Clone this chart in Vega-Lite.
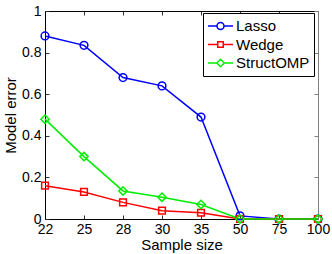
{
  "$schema": "https://vega.github.io/schema/vega-lite/v6.json",
  "width": 273,
  "height": 208,
  "autosize": {"type": "none"},
  "padding": {"left": 45, "top": 11, "right": 14, "bottom": 35},
  "background": "white",
  "config": {
    "view": {"stroke": null},
    "font": "Liberation Sans",
    "axis": {"grid": false, "labelFont": "Liberation Sans", "titleFont": "Liberation Sans", "labelFontSize": 14, "titleFontSize": 15, "titleFontWeight": "normal", "labelColor": "black", "titleColor": "black", "domainColor": "black", "tickColor": "#333333", "tickSize": -4, "domainWidth": 1}
  },
  "data": {"values": [
    {"n": "22", "method": "Lasso", "err": 0.88},
    {"n": "25", "method": "Lasso", "err": 0.835},
    {"n": "28", "method": "Lasso", "err": 0.68},
    {"n": "30", "method": "Lasso", "err": 0.64},
    {"n": "35", "method": "Lasso", "err": 0.49},
    {"n": "50", "method": "Lasso", "err": 0.015},
    {"n": "75", "method": "Lasso", "err": 0.0},
    {"n": "100", "method": "Lasso", "err": 0.0},
    {"n": "22", "method": "Wedge", "err": 0.16},
    {"n": "25", "method": "Wedge", "err": 0.13},
    {"n": "28", "method": "Wedge", "err": 0.08},
    {"n": "30", "method": "Wedge", "err": 0.04},
    {"n": "35", "method": "Wedge", "err": 0.03},
    {"n": "50", "method": "Wedge", "err": 0.0},
    {"n": "75", "method": "Wedge", "err": 0.0},
    {"n": "100", "method": "Wedge", "err": 0.0},
    {"n": "22", "method": "StructOMP", "err": 0.48},
    {"n": "25", "method": "StructOMP", "err": 0.30},
    {"n": "28", "method": "StructOMP", "err": 0.135},
    {"n": "30", "method": "StructOMP", "err": 0.105},
    {"n": "35", "method": "StructOMP", "err": 0.07},
    {"n": "50", "method": "StructOMP", "err": 0.0},
    {"n": "75", "method": "StructOMP", "err": 0.0},
    {"n": "100", "method": "StructOMP", "err": 0.0}
  ]},
  "encoding": {
    "x": {"field": "n", "type": "ordinal", "sort": ["22", "25", "28", "30", "35", "50", "75", "100"], "scale": {"type": "point", "padding": 0}},
    "y": {"field": "err", "type": "quantitative", "scale": {"domain": [0, 1], "nice": false, "zero": true}},
    "color": {"field": "method", "type": "nominal", "scale": {"domain": ["Lasso", "Wedge", "StructOMP"], "range": ["#0000ff", "#ff0000", "#00ee00"]}, "legend": null}
  },
  "layer": [
    {
      "mark": {"type": "line", "strokeWidth": 1.5},
      "encoding": {
        "x": {"field": "n", "type": "ordinal", "sort": ["22", "25", "28", "30", "35", "50", "75", "100"], "scale": {"type": "point", "padding": 0}, "axis": {"orient": "bottom", "title": "Sample size", "labelAngle": 0, "labelPadding": 7, "titlePadding": 1, "tickSize": -4}},
        "y": {"field": "err", "type": "quantitative", "axis": {"orient": "left", "title": "Model error", "values": [0, 0.2, 0.4, 0.6, 0.8, 1], "format": "~g", "labelPadding": 8, "titlePadding": 3, "tickSize": -4}},
        "color": {"field": "method", "type": "nominal", "legend": {
          "title": null, "orient": "none", "legendX": 158, "legendY": 2,
          "strokeColor": "black", "fillColor": "white", "padding": 4, "cornerRadius": 0,
          "labelFont": "Liberation Sans", "labelFontSize": 15, "labelColor": "black", "labelOffset": 2,
          "symbolType": "stroke", "symbolSize": 625, "symbolStrokeWidth": 1.5, "rowPadding": 0.5, "clipHeight": 18,
          "encode": {"symbols": {"update": {"fill": {"value": "transparent"}, "shape": {"signal": "datum.value === 'Lasso' ? 'M-1,0L-0.28,0M0.28,0L1,0M0.28,0A0.28,0.28 0 1 1 -0.28,0A0.28,0.28 0 1 1 0.28,0' : datum.value === 'Wedge' ? 'M-1,0L-0.22,0M0.22,0L1,0M-0.22,-0.22L0.22,-0.22L0.22,0.22L-0.22,0.22Z' : 'M-1,0L-0.3,0M0.3,0L1,0M-0.3,0L0,-0.3L0.3,0L0,0.3Z'"}}}}
        }}
      }
    },
    {
      "transform": [{"filter": "datum.method === 'Lasso'"}],
      "mark": {"type": "point", "shape": "circle", "size": 60, "filled": false, "strokeWidth": 1.5, "opacity": 1},
      "encoding": {
        "x": {"field": "n", "type": "ordinal", "sort": ["22", "25", "28", "30", "35", "50", "75", "100"], "scale": {"type": "point", "padding": 0}, "axis": {"orient": "top", "title": null, "labels": false, "domainColor": "black", "tickSize": -4}},
        "y": {"field": "err", "type": "quantitative", "axis": {"orient": "right", "title": null, "labels": false, "values": [0, 0.2, 0.4, 0.6, 0.8, 1], "domainColor": "#808080", "tickColor": "#808080", "tickSize": -4}},
        "color": {"field": "method", "type": "nominal", "legend": null}
      }
    },
    {
      "transform": [{"filter": "datum.method === 'Wedge'"}],
      "mark": {"type": "point", "shape": "square", "size": 45, "filled": false, "strokeWidth": 1.5, "opacity": 1},
      "encoding": {
        "x": {"field": "n", "type": "ordinal", "sort": ["22", "25", "28", "30", "35", "50", "75", "100"], "scale": {"type": "point", "padding": 0}, "axis": null},
        "y": {"field": "err", "type": "quantitative", "axis": null},
        "color": {"field": "method", "type": "nominal", "legend": null}
      }
    },
    {
      "transform": [{"filter": "datum.method === 'StructOMP'"}],
      "mark": {"type": "point", "shape": "diamond", "size": 70, "filled": false, "strokeWidth": 1.5, "opacity": 1},
      "encoding": {
        "x": {"field": "n", "type": "ordinal", "sort": ["22", "25", "28", "30", "35", "50", "75", "100"], "scale": {"type": "point", "padding": 0}, "axis": null},
        "y": {"field": "err", "type": "quantitative", "axis": null},
        "color": {"field": "method", "type": "nominal", "legend": null}
      }
    }
  ],
  "resolve": {"axis": {"x": "independent", "y": "independent"}}
}
